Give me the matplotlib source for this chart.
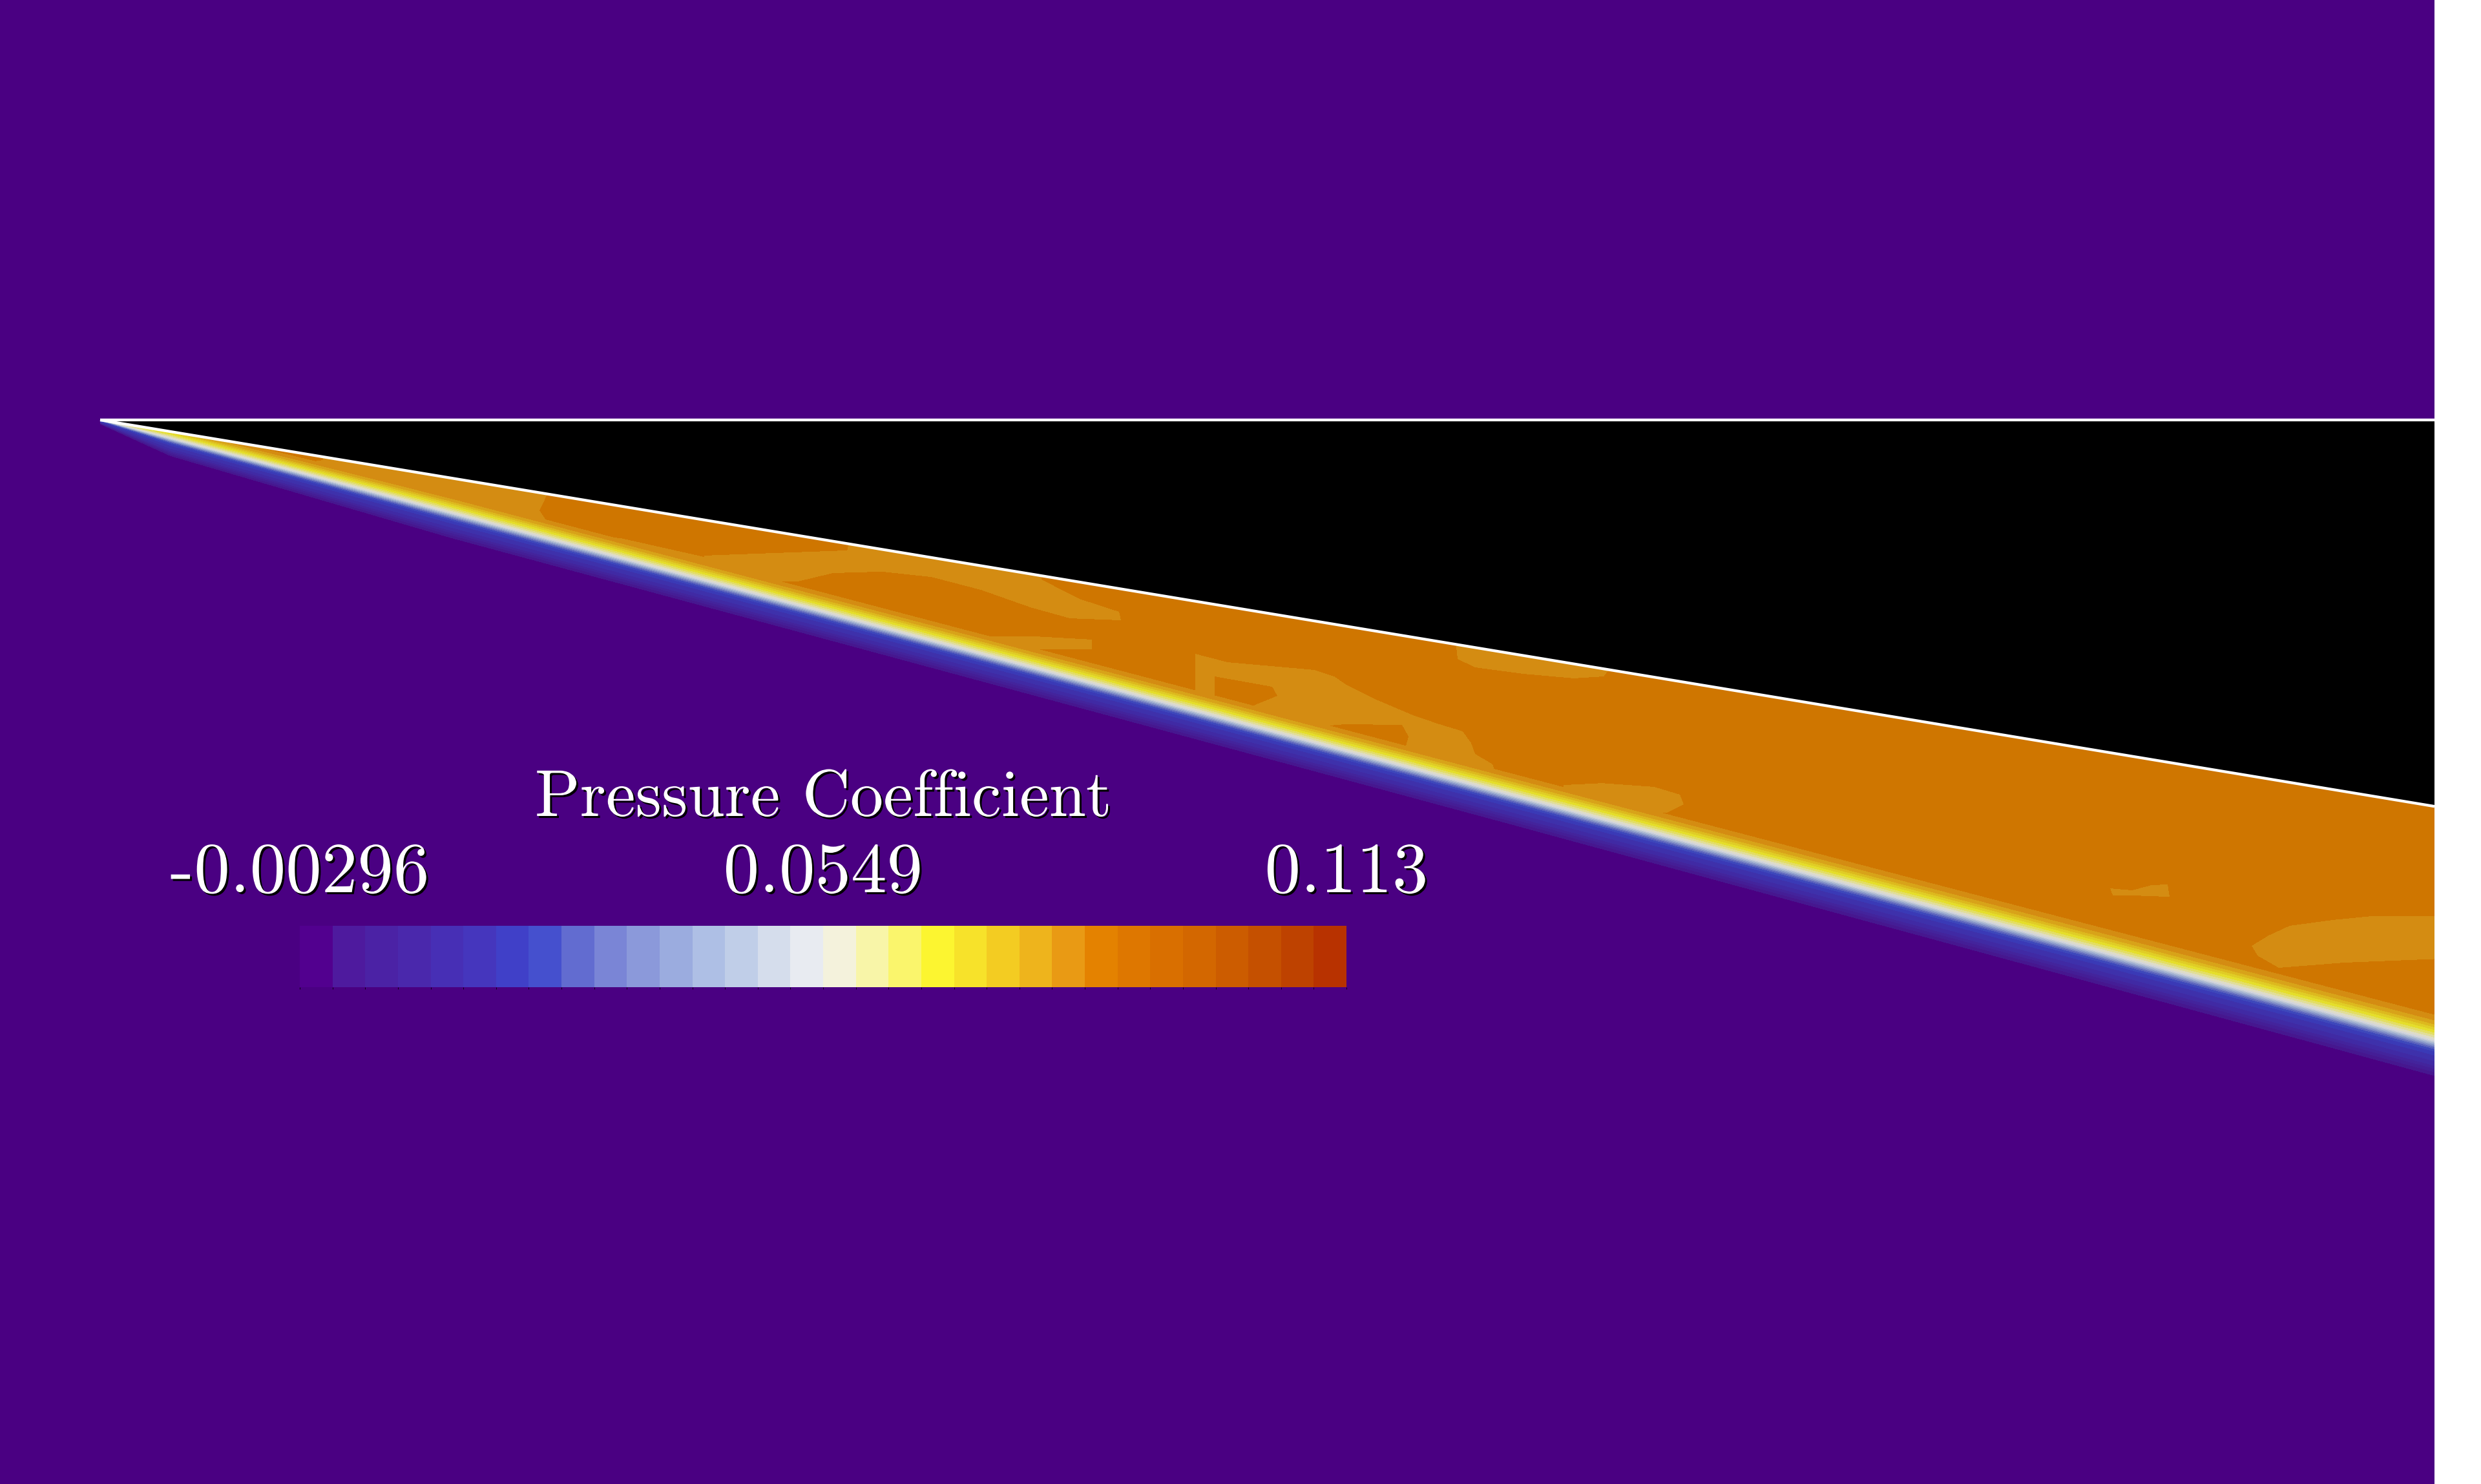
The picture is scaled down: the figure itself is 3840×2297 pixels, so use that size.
import numpy as np
import matplotlib
matplotlib.use('Agg')
import matplotlib.pyplot as plt
import matplotlib.cm as cm
import matplotlib.patheffects as pe
from matplotlib.colors import ListedColormap, BoundaryNorm, to_rgb
from matplotlib.path import Path
from matplotlib.patches import Polygon

# colour legend
cp_min, cp_max = -0.00296, 0.113
bar_title = 'Pressure Coefficient'
bar_labels = ['-0.00296', '0.0549', '0.113']
bar_colors = ['#52008F', '#4E1A9E', '#4B22A5', '#4A28AC', '#472FB5', '#4536BD',
              '#4040C8', '#4550CE', '#626CD0', '#7A85D6', '#8B99DA', '#9BACDF',
              '#AEBFE5', '#C0CEE8', '#D5DDEC', '#E8EBF1', '#F4F2DC', '#F8F5A8',
              '#FAF56C', '#FCF530', '#F7E22A', '#F3CC22', '#EEB41C', '#E99A14',
              '#E48200', '#DE7700', '#D96F00', '#D36700', '#CC5C00', '#C55000',
              '#BE4200', '#B83200']
field_shade = 0.91  # scene is lit a bit darker than the legend

# geometry, x/c with the wedge tip at the origin
wedge_angle = 9.4    # deg, lower surface
shock_angle = 14.9   # deg, oblique shock
cp_inf = 0.0
cp_dark = 0.0858     # main post-shock level
cp_light = 0.0822    # lighter pockets

# shock profile across the front (offset in 1e-3 chord, + = upstream side)
shock_offset = [-10.5, -8.3, -6.4, -4.4, -2.5, -0.8, 0.0, 1.1, 2.5, 4.2, 6.1, 8.3, 10.5, 12.7]
shock_cp = [0.0858, 0.0822, 0.0786, 0.0713, 0.0641, 0.0568, 0.0532,
            0.0423, 0.0278, 0.0206, 0.0170, 0.0134, 0.0061, 0.0]
# shock thickness growth along the wedge
thick_x = [0.0, 0.03, 0.15, 0.6, 1.0]
thick_scale = [0.15, 0.6, 0.85, 1.0, 1.2]

# lighter pockets behind the shock (x/c, y/c)
light_patches = [
    [(-0.0152, 0.0138), (0.1913, 0.0138), (0.1913, -0.0324), (0.1882, -0.0387),
     (0.1913, -0.0435), (0.2073, -0.0490), (0.2231, -0.0507), (0.2339, -0.0531),
     (0.2588, -0.0587), (0.2616, -0.0692), (0.2339, -0.0830), (-0.0152, -0.0830)],
    [(0.2588, -0.0581), (0.3200, -0.0559), (0.3211, -0.0512), (0.3211, -0.0387),
     (0.4033, -0.0387), (0.4033, -0.0684), (0.4196, -0.0767), (0.4365, -0.0822),
     (0.4373, -0.0858), (0.4155, -0.0850), (0.3986, -0.0803), (0.3773, -0.0728),
     (0.3562, -0.0673), (0.3349, -0.0650), (0.3139, -0.0656), (0.2989, -0.0692),
     (0.2820, -0.0692), (0.2588, -0.0609)],
    [(0.3723, -0.0927), (0.3999, -0.0927), (0.4249, -0.0941), (0.4249, -0.0983),
     (0.3889, -0.0983), (0.3723, -0.0955)],
    [(0.4691, -0.1002), (0.4830, -0.1038), (0.5201, -0.1071), (0.5287, -0.1099),
     (0.5339, -0.1135), (0.5466, -0.1198), (0.5624, -0.1265), (0.5729, -0.1301),
     (0.5837, -0.1334), (0.5873, -0.1384), (0.5890, -0.1431), (0.5965, -0.1475),
     (0.6020, -0.1661), (0.4691, -0.1661)],
    [(0.5798, -0.0858), (0.5815, -0.1024), (0.5890, -0.1060), (0.6100, -0.1088),
     (0.6313, -0.1107), (0.6441, -0.1099), (0.6477, -0.1052), (0.6477, -0.0858)],
    [(0.6269, -0.1564), (0.6435, -0.1556), (0.6657, -0.1572), (0.6767, -0.1605),
     (0.6784, -0.1647), (0.6712, -0.1683), (0.6546, -0.1694), (0.6269, -0.1694)],
    [(0.8611, -0.2007), (0.8705, -0.2015), (0.8788, -0.1993), (0.8857, -0.1990),
     (0.8865, -0.2043), (0.8705, -0.2037), (0.8622, -0.2037)],
    [(0.9217, -0.2253), (0.9289, -0.2209), (0.9380, -0.2167), (0.9566, -0.2142),
     (0.9729, -0.2126), (1.0089, -0.2126), (1.0089, -0.2306), (0.9613, -0.2325),
     (0.9333, -0.2347), (0.9242, -0.2295)],
]
# darker islands inside the light pockets
dark_patches = [
    [(0.1273, -0.0296), (0.1342, -0.0282), (0.1412, -0.0304), (0.1384, -0.0332),
     (0.1301, -0.0327)],
    [(0.0623, -0.0083), (0.0955, -0.0083), (0.0955, -0.0172), (0.0872, -0.0183),
     (0.0678, -0.0155)],
    [(0.4775, -0.1099), (0.5021, -0.1143), (0.5043, -0.1182), (0.4935, -0.1226),
     (0.4775, -0.1240)],
    [(0.5201, -0.1315), (0.5328, -0.1304), (0.5577, -0.1306), (0.5605, -0.1356),
     (0.5591, -0.1406), (0.5494, -0.1439), (0.5328, -0.1417), (0.5201, -0.1384)],
]

# colour maps
n_lev = len(bar_colors)
levels = np.linspace(cp_min, cp_max, n_lev + 1)
norm = BoundaryNorm(levels, n_lev)
bar_cmap = ListedColormap(bar_colors)
field_cmap = ListedColormap([tuple(c * field_shade for c in to_rgb(h)) for h in bar_colors])

# figure: 3840 x 2297 px, 3613 px per chord, tip at px (155, 650)
W, H, ppc = 3840, 2297, 3613.0
x0, x1 = -155 / ppc, (W - 155) / ppc
y0, y1 = -(H - 650) / ppc, 650 / ppc

fig = plt.figure(figsize=(W / 100, H / 100), dpi=100)
fig.patch.set_facecolor('white')
ax = fig.add_axes([0, 0, 1, 1])

# sample the field on a pixel grid up to the outlet x/c = 1
nx = int(round((1.0 - x0) * ppc))
xc = x0 + (np.arange(nx) + 0.5) / ppc
yc = y1 - (np.arange(H) + 0.5) / ppc
X = xc[None, :]
Y = yc[:, None]
region = (X > 0) & (Y < 0) & (Y > -0.3 * X - 0.02)
rows, cols = np.nonzero(region)
px, py = xc[cols], yc[rows]
pts = np.column_stack([px, py])

post = np.full(len(pts), cp_dark)
for poly in light_patches:
    post[Path(poly).contains_points(pts)] = cp_light
for poly in dark_patches:
    post[Path(poly).contains_points(pts)] = cp_dark

d = py + np.tan(np.radians(shock_angle)) * px
off = -d * 1000.0 / np.interp(px, thick_x, thick_scale)
prof = np.interp(off, shock_offset, shock_cp)

cp = np.full((H, nx), cp_inf, dtype=np.float32)
cp[rows, cols] = np.minimum(prof, post)

ax.imshow(cp, cmap=field_cmap, norm=norm, extent=(x0, 1.0, y0, y1),
          origin='upper', interpolation='nearest', zorder=1)

# wedge body and its outline
tw = np.tan(np.radians(wedge_angle))
ax.add_patch(Polygon([(0, 0), (1, 0), (1, -tw)], closed=True, fc='black', ec='none', zorder=2))
ax.plot([0, 1], [0, 0], color='white', lw=3.1, solid_capstyle='butt', zorder=3)
ax.plot([0, 1], [0, -tw], color='white', lw=3.1, solid_capstyle='butt', zorder=3)

ax.set_xlim(x0, x1)
ax.set_ylim(y0, y1)
ax.set_aspect('auto')
ax.axis('off')

# legend bar
cax = fig.add_axes([464 / W, 1 - 1528 / H, 1620 / W, 95 / H])
cb = fig.colorbar(cm.ScalarMappable(norm=norm, cmap=bar_cmap), cax=cax, orientation='horizontal')
cb.outline.set_visible(False)
cb.set_ticks([])

shadow = [pe.SimplePatchShadow(offset=(2.2, -2.2), shadow_rgbFace='black', alpha=1.0), pe.Normal()]
fig.text(1274 / W, 1 - 1263 / H, bar_title, color='white', fontsize=74, fontfamily='cmr10',
         ha='center', va='baseline', path_effects=shadow)
for i, lab in enumerate(bar_labels):
    fig.text((464 + i * 810) / W, 1 - 1381 / H, lab, color='white', fontsize=80,
             fontfamily='cmr10', ha='center', va='baseline', path_effects=shadow)

fig.savefig('out.png', dpi=100, facecolor='white')
